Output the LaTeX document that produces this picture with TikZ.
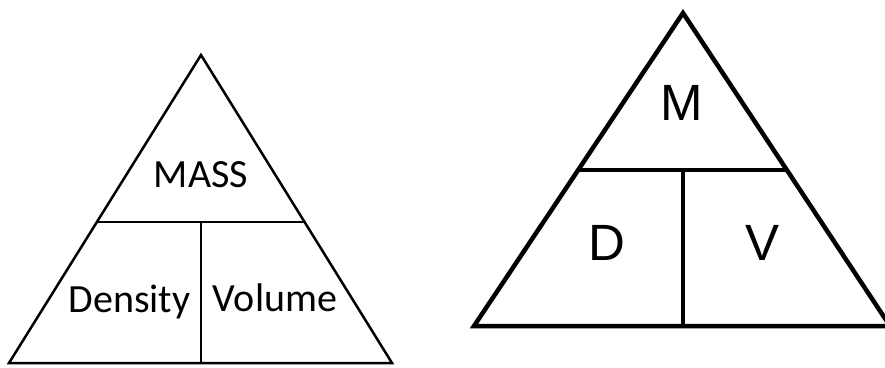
\documentclass[tikz,border=0pt]{standalone}
\usepackage{fontspec}
\setmainfont{Carlito}
\newfontfamily\arialfont{Liberation Sans}
\usepackage{tikz}

\begin{document}
\begin{tikzpicture}[x=1pt,y=-1pt]
  \clip (0,0) rectangle (885,367);
  \fill[white] (0,0) rectangle (885,367);
  % word triangle
  \draw[line width=2.5pt] (201,55) -- (392,363) -- (9,363) -- cycle;
  \draw[line width=2.5pt] (96,222) -- (305,222);
  \draw[line width=2.5pt] (201,222) -- (201,363);
  \node[anchor=base,font=\fontsize{40}{48}\selectfont] (mass) at (201,187) {MASS};
  \node[anchor=base,font=\fontsize{40}{48}\selectfont] (density) at (129.5,312) {Density};
  \node[anchor=base,font=\fontsize{40}{48}\selectfont] (volume) at (275,311) {Volume};
  % letter triangle
  \draw[line width=4.5pt] (683,13) -- (890,326) -- (474,326) -- cycle;
  \draw[line width=4.5pt] (578,170) -- (787,170);
  \draw[line width=4.5pt] (683,170) -- (683,326);
  \node[anchor=base,font=\arialfont\fontsize{51}{60}\selectfont] (m) at (682,120) {M};
  \node[anchor=base,font=\arialfont\fontsize{51}{60}\selectfont] (d) at (607,260) {D};
  \node[anchor=base,font=\arialfont\fontsize{51}{60}\selectfont] (v) at (762,260) {V};
\end{tikzpicture}
\end{document}
